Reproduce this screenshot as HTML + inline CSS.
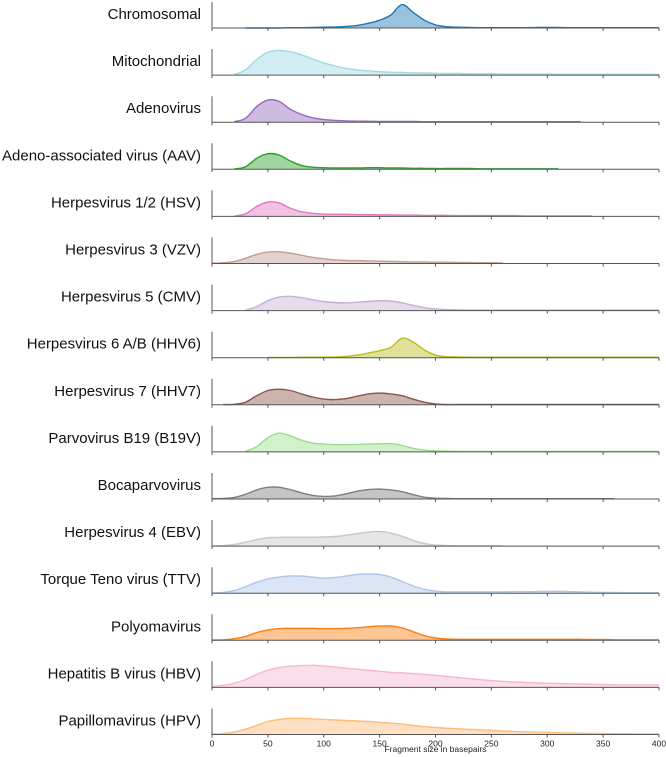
<!DOCTYPE html>
<html><head><meta charset="utf-8"><style>
html,body{margin:0;padding:0;background:#fff;width:666px;height:757px;overflow:hidden}
text{font-family:"Liberation Sans","DejaVu Sans",sans-serif}
</style></head><body>
<svg id="chart" width="666" height="757" xmlns="http://www.w3.org/2000/svg"></svg>
<script>
const labels=["Chromosomal","Mitochondrial","Adenovirus","Adeno-associated virus (AAV)","Herpesvirus 1/2 (HSV)","Herpesvirus 3 (VZV)","Herpesvirus 5 (CMV)","Herpesvirus 6 A/B (HHV6)","Herpesvirus 7 (HHV7)","Parvovirus B19 (B19V)","Bocaparvovirus","Herpesvirus 4 (EBV)","Torque Teno virus (TTV)","Polyomavirus","Hepatitis B virus (HBV)","Papillomavirus (HPV)"];
const colors=["#1f77b4","#9edae5","#9467bd","#2ca02c","#e377c2","#c49c94","#c5b0d5","#bcbd22","#8c564b","#98df8a","#7f7f7f","#c7c7c7","#aec7e8","#ff7f0e","#f7b6d2","#ffbb78"];
const xTicks=[0,50,100,150,200,250,300,350,400];
// density at x = 0,10,...,400 (fraction of row height); null = no data
const dChrom=[null,null,null,0,0,0,0,0.01,0.01,0.02,0.03,0.04,0.06,0.1,0.18,0.3,0.5,0.9,0.6,0.3,0.12,0.05,0.03,0.02,0.01,0.01,0.01,0.01,0.01,0.02,0.02,0.02,0.01,0.01,0.01,0.01,0.01,0.01,0.01,0.01,0.01];
const dMito=[null,null,0.02,0.2,0.6,0.88,0.95,0.9,0.78,0.62,0.47,0.35,0.26,0.2,0.16,0.13,0.11,0.1,0.09,0.08,0.07,0.06,0.06,0.05,0.05,0.05,0.04,0.04,0.04,0.04,0.04,0.03,0.03,0.03,0.03,0.03,0.03,0.03,0.03,0.03,0.03];
const dAdeno=[null,null,0.02,0.15,0.6,0.85,0.8,0.5,0.3,0.17,0.1,0.07,0.05,0.04,0.04,0.03,0.03,0.03,0.03,0.02,0.02,0.02,0.02,0.02,0.02,0.02,0.02,0.02,0.02,0.02,0.02,0.02,0.02,0.02,null,null,null,null,null,null,null];
const dAAV=[null,null,0.01,0.1,0.42,0.6,0.55,0.32,0.15,0.08,0.06,0.05,0.05,0.05,0.06,0.06,0.05,0.05,0.04,0.04,0.03,0.03,0.03,0.03,0.02,0.02,0.02,0.02,0.02,0.02,0.02,0.02,null,null,null,null,null,null,null,null,null];
const dHSV=[null,null,0.01,0.1,0.38,0.55,0.52,0.32,0.18,0.12,0.09,0.08,0.08,0.07,0.07,0.06,0.06,0.05,0.05,0.04,0.04,0.04,0.03,0.03,0.03,0.03,0.03,0.03,0.02,0.02,0.02,0.02,0.02,0.02,0.02,null,null,null,null,null,null];
const dVZV=[0.01,0.03,0.08,0.2,0.35,0.44,0.45,0.4,0.32,0.24,0.18,0.14,0.12,0.11,0.1,0.09,0.08,0.07,0.06,0.06,0.05,0.05,0.04,0.04,0.03,0.03,0.02,null,null,null,null,null,null,null,null,null,null,null,null,null,null];
const dCMV=[null,null,null,0.02,0.15,0.38,0.52,0.55,0.5,0.42,0.35,0.31,0.3,0.32,0.35,0.38,0.37,0.3,0.2,0.11,0.06,0.04,0.03,0.02,0.02,0.02,0.02,0.02,0.02,0.02,0.02,0.02,0.02,0.02,0.02,0.02,0.02,0.02,0.02,0.02,0.02];
const dHHV6=[null,null,null,null,null,0.01,0.01,0.01,0.02,0.02,0.02,0.03,0.05,0.1,0.18,0.27,0.4,0.75,0.6,0.3,0.1,0.04,0.03,0.02,0.02,0.02,0.02,0.02,0.02,0.02,0.02,0.02,0.02,0.02,0.02,0.02,0.02,0.02,0.02,0.02,0.02];
const dHHV7=[null,0.01,0.02,0.1,0.35,0.55,0.6,0.55,0.42,0.3,0.22,0.2,0.24,0.33,0.42,0.45,0.42,0.35,0.22,0.1,0.03,0.01,0.01,0.01,0.01,0.01,0.01,0.01,0.01,0.01,0.01,0.01,0.01,0.01,0.01,0.01,0.01,0.01,0.01,0.01,0.01];
const dB19=[null,null,null,0.02,0.2,0.55,0.72,0.62,0.45,0.34,0.3,0.28,0.28,0.29,0.3,0.31,0.32,0.25,0.14,0.07,0.04,0.03,0.02,0.02,0.02,0.02,0.02,0.02,0.02,0.02,0.02,0.02,0.02,0.02,0.02,0.02,0.02,0.02,0.02,0.02,0.02];
const dBoca=[0.01,0.02,0.06,0.18,0.35,0.45,0.45,0.36,0.24,0.14,0.1,0.12,0.2,0.3,0.36,0.38,0.35,0.28,0.17,0.07,0.03,0.02,0.01,0.01,0.01,0.01,0.01,0.01,0.01,0.01,0.01,0.01,0.01,0.01,0.01,0.01,0.01,null,null,null,null];
const dEBV=[0.01,0.02,0.06,0.15,0.25,0.32,0.34,0.34,0.34,0.34,0.35,0.37,0.42,0.48,0.54,0.56,0.5,0.38,0.22,0.1,0.04,0.02,0.01,0.01,0.01,0.01,0.01,null,null,null,null,null,null,null,null,null,null,null,null,null,null];
const dTTV=[0.01,0.03,0.1,0.25,0.42,0.55,0.62,0.66,0.66,0.62,0.58,0.6,0.66,0.72,0.74,0.72,0.62,0.45,0.28,0.15,0.08,0.05,0.05,0.05,0.05,0.05,0.05,0.06,0.06,0.06,0.07,0.07,0.06,0.05,0.04,0.03,0.03,0.02,0.02,0.02,0.02];
const dPoly=[0.01,0.02,0.06,0.15,0.3,0.4,0.45,0.46,0.46,0.46,0.45,0.45,0.46,0.48,0.52,0.55,0.55,0.48,0.33,0.18,0.09,0.05,0.04,0.04,0.04,0.04,0.04,0.04,0.04,0.04,0.04,0.04,0.04,0.04,0.03,0.03,0.02,0.02,0.02,0.02,0.02];
const dHBV=[0.04,0.08,0.16,0.3,0.5,0.66,0.76,0.82,0.84,0.85,0.82,0.78,0.74,0.7,0.66,0.62,0.58,0.56,0.53,0.5,0.46,0.42,0.38,0.34,0.3,0.26,0.23,0.21,0.19,0.17,0.16,0.15,0.14,0.13,0.12,0.11,0.1,0.1,0.1,0.1,0.1];
const dHPV=[0.01,0.04,0.1,0.2,0.35,0.5,0.58,0.62,0.62,0.6,0.58,0.56,0.54,0.52,0.5,0.47,0.44,0.4,0.35,0.3,0.27,0.24,0.22,0.2,0.18,0.16,0.14,0.12,0.1,0.09,0.08,0.07,0.06,0.05,0.04,0.04,0.03,0.03,0.02,0.02,0.02];
const series=[dChrom,dMito,dAdeno,dAAV,dHSV,dVZV,dCMV,dHHV6,dHHV7,dB19,dBoca,dEBV,dTTV,dPoly,dHBV,dHPV];

const svg=document.getElementById('chart');
const NS='http://www.w3.org/2000/svg';
const X0=212,X1=659,ROW0=28,STEP=47.1,H=26;
const xs=v=>X0+(v/400)*(X1-X0);
function mk(tag,attrs,parent){const e=document.createElementNS(NS,tag);for(const k in attrs)e.setAttribute(k,attrs[k]);(parent||svg).appendChild(e);return e;}
function smooth(p){
  let s='M'+p[0][0].toFixed(1)+','+p[0][1].toFixed(1);
  for(let k=0;k<p.length-1;k++){
    const a=p[k-1]||p[k],b=p[k],c=p[k+1],d=p[k+2]||c;
    const c1=[b[0]+(c[0]-a[0])/6,b[1]+(c[1]-a[1])/6];
    const c2=[c[0]-(d[0]-b[0])/6,c[1]-(d[1]-b[1])/6];
    s+='C'+c1[0].toFixed(1)+','+c1[1].toFixed(1)+' '+c2[0].toFixed(1)+','+c2[1].toFixed(1)+' '+c[0].toFixed(1)+','+c[1].toFixed(1);
  }
  return s;
}
series.forEach((d,i)=>{
  const y0=ROW0+i*STEP;
  const g=mk('g',{});
  
  
  const lab=mk('text',{x:201,y:y0-9,'text-anchor':'end','font-size':15,fill:'#111'},g);
  lab.textContent=labels[i];
  
  
  const pts=[];
  d.forEach((v,k)=>{if(v!==null)pts.push([xs(k*10),y0-v*H]);});
  const line=smooth(pts);
  const area=mk('path',{d:line+'L'+pts[pts.length-1][0].toFixed(1)+','+y0+'L'+pts[0][0].toFixed(1)+','+y0+'Z',fill:colors[i],'fill-opacity':0.45,stroke:'none'},g);
  
  
  const ln=mk('path',{d:line,fill:'none',stroke:colors[i],'stroke-width':1.4,'stroke-linejoin':'round'},g);
  
  
  const sp=mk('line',{x1:X0,x2:X0,y1:y0-H,y2:y0,stroke:'#555','stroke-width':1},g);
  
  
  const ax=mk('line',{x1:X0,x2:X1,y1:y0,y2:y0,stroke:'#555','stroke-width':1},g);
  
  
  xTicks.forEach(t=>{
    const tk=mk('line',{x1:xs(t),x2:xs(t),y1:y0,y2:y0+3,stroke:'#555','stroke-width':1},g);
    
    
    if(i===series.length-1){
      const tl=mk('text',{x:xs(t),y:y0+12,'text-anchor':'middle','font-size':8.5,fill:'#222'},g);
      tl.textContent=t;
      
      
    }
  });
});
const xt=mk('text',{x:xs(200),y:752,'text-anchor':'middle','font-size':8.5,fill:'#222'});
xt.textContent='Fragment size in basepairs';


</script>
</body></html>
